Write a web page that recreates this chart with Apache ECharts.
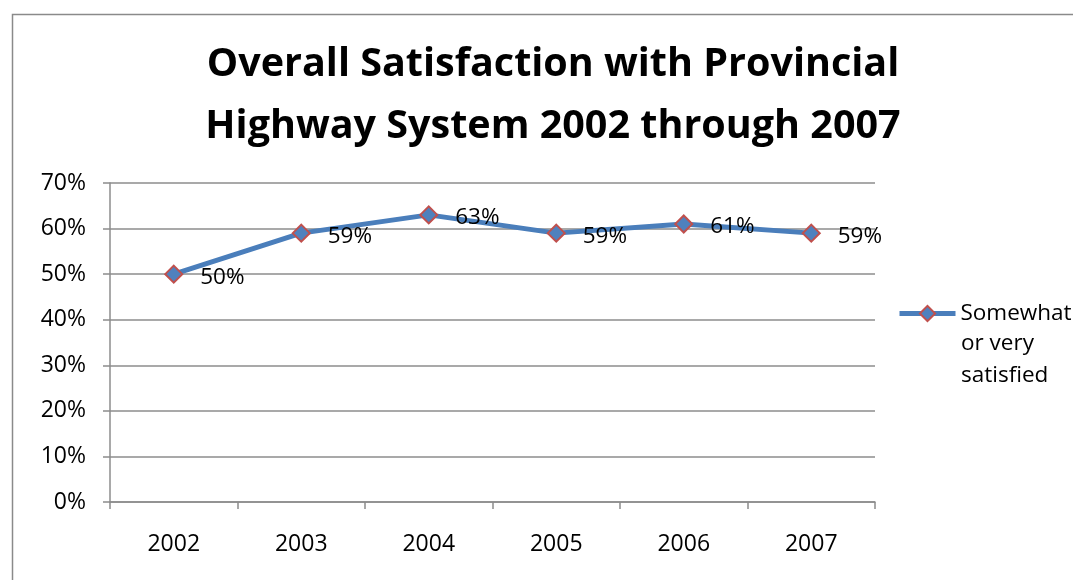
<!DOCTYPE html>
<html>
<head>
<meta charset="utf-8">
<script src="https://cdn.jsdelivr.net/npm/echarts@6/dist/echarts.min.js"></script>
<style>
  html, body { margin: 0; padding: 0; background: #fff; }
  #chart { width: 1073px; height: 580px; }
</style>
</head>
<body>
<div id="chart"></div>
<script>
// Survey years and share of respondents somewhat or very satisfied
const years = ['2002', '2003', '2004', '2005', '2006', '2007'];
const satisfied = [0.50, 0.59, 0.63, 0.59, 0.61, 0.59];
const seriesName = 'Somewhat or very satisfied';
const legendLines = ['Somewhat', 'or very', 'satisfied'];
const titleText = 'Overall Satisfaction with Provincial\nHighway System 2002 through 2007';

const FONT = 'Open Sans';
const GRID_GREY = '#8c8c8c';
const LEGEND_FONT = 22.5;
const LEGEND_LINE = 32.5;

const chart = echarts.init(document.getElementById('chart'), null, { renderer: 'canvas' });

const pct = v => Math.round(v * 100) + '%';

chart.setOption({
  backgroundColor: '#ffffff',
  animation: false,
  graphic: [{
    // chart-area frame
    type: 'rect',
    left: 10, top: 12,
    shape: { width: 1200, height: 700 },
    style: { fill: 'none', stroke: '#8a8a8a', lineWidth: 1.5 },
    silent: true
  }, {
    // wrapped continuation of the legend entry below its first line
    type: 'text',
    left: 961,
    top: 311 + LEGEND_LINE / 2,
    style: {
      text: legendLines.slice(1).join('\n'),
      fontFamily: FONT,
      fontSize: LEGEND_FONT,
      lineHeight: LEGEND_LINE,
      fill: '#000'
    },
    silent: true
  }],
  title: {
    text: titleText,
    left: 548,
    top: 29,
    textAlign: 'center',
    textStyle: {
      fontFamily: FONT,
      fontWeight: 'bold',
      fontSize: 39.5,
      lineHeight: 62,
      color: '#000'
    }
  },
  legend: {
    left: 892,
    top: 297,
    orient: 'vertical',
    itemWidth: 56,
    itemHeight: 19,
    itemGap: 0,
    formatter: () => legendLines[0],
    lineStyle: { width: 5 },
    textStyle: {
      fontFamily: FONT,
      fontSize: LEGEND_FONT,
      color: '#000'
    }
  },
  grid: {
    left: 110,
    right: 198,
    top: 183,
    bottom: 78,
    containLabel: false
  },
  xAxis: {
    type: 'category',
    data: years,
    boundaryGap: true,
    axisLine: { lineStyle: { color: GRID_GREY, width: 1.5 } },
    axisTick: { show: true, alignWithLabel: false, length: 7, lineStyle: { color: GRID_GREY, width: 1.5 } },
    axisLabel: { fontFamily: FONT, fontSize: 23, color: '#000', margin: 31 }
  },
  yAxis: {
    type: 'value',
    min: 0,
    max: 0.7,
    interval: 0.1,
    axisLine: { show: true, lineStyle: { color: GRID_GREY, width: 1.5 } },
    axisTick: { show: true, length: 7, lineStyle: { color: GRID_GREY, width: 1.5 } },
    splitLine: { show: true, lineStyle: { color: GRID_GREY, width: 1.5 } },
    axisLabel: {
      fontFamily: FONT, fontSize: 23, color: '#000', margin: 24,
      formatter: v => Math.round(v * 100) + '%'
    }
  },
  series: [{
    name: seriesName,
    type: 'line',
    data: satisfied,
    symbol: 'diamond',
    symbolSize: 17,
    lineStyle: { color: '#4A7EBB', width: 5 },
    itemStyle: { color: '#4F81BD', borderColor: '#C0504D', borderWidth: 2 },
    label: {
      show: true,
      position: 'right',
      distance: 17,
      offset: [0, 3],
      fontFamily: FONT,
      fontSize: 22.5,
      color: '#000',
      formatter: p => pct(p.value)
    }
  }]
});
</script>
</body>
</html>
